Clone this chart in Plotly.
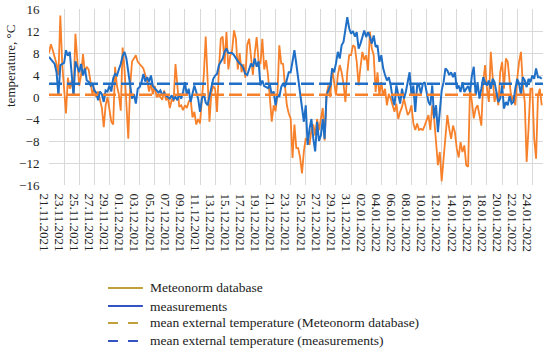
import pandas as pd
import plotly.graph_objects as go

# ---- data (6-hourly samples starting 21.11.2021 00:00) ----
start_time = "2021-11-21 00:00"
meteonorm = [
    8.0, 9.6, 8.5, 7.2,   6.0, 4.0, 14.8, 6.0,   1.0, -3.0, 3.5, 1.5,   3.0, 0.5, 11.5, 6.0,
    2.0, 4.0, 7.8, 4.5,   5.5, 5.0, 2.5, 0.5,    1.5, 0.0, 1.0, -0.8,   -2.0, -5.5, -1.5, 0.0,
    -2.5, -4.5, -5.0, 5.5, 2.0, 0.5, -2.5, 9.0,  5.0, -2.0, -7.6, 2.0,  6.5, 7.0, 7.6, 6.4,
    6.0, 5.5, 5.2, 4.0,   3.0, 1.0, 2.5, 0.5,    2.0, 0.0, 0.3, 0.0,    -0.5, 1.2, -0.6, 0.0,
    -2.0, -0.5, -0.8, 6.0, 1.5, -1.8, -1.5, -2.4, -1.5, -2.0, -0.9, -0.3, -3.7, -2.7, -5.0, -4.0,
    -4.8, -1.0, 4.0, 11.0, 3.0, -4.5, 0.8, 2.0,  1.5, -2.7, 5.0, 10.6,  11.0, 6.0, 11.8, 5.0,
    7.5, 8.5, 12.1, 10.6, 5.0, 8.0, 4.5, 6.0,    3.5, 9.5, 10.6, 7.5,   4.0, 8.0, 10.9, 6.5,
    6.0, 10.6, 5.0, 6.7,  4.0, -0.2, -4.5, -1.5, -2.6, 0.5, 9.4, 6.1,   6.0, 2.0, -1.5, -3.0,
    -3.9, -11.1, -5.0, -9.3, -9.3, -11.0, -13.9, -9.9, -7.5, -8.0, -8.7, -6.0, -5.0, -7.0, -4.0, -6.0,
    -4.0, -2.0, -7.9, 0.5, 2.1, 0.0, 5.2, 2.7,   0.3, 4.0, 5.8, 4.5,    2.4, -0.9, 4.5, 7.6,
    7.6, 9.4, 9.1, 6.4,   2.1, 5.5, 8.2, 6.7,    7.6, 4.8, 11.9, 8.8,   7.6, 0.9, 4.5, 0.3,
    2.7, 0.3, 1.5, -1.5,  0.6, -0.3, -1.5, -2.7, -1.2, -4.0, -2.7, -1.8, -0.3, -1.8, -3.3, -2.7,
    -1.5, -4.8, -6.0, -4.8, -6.0, -5.8, -6.0, -5.2, -4.2, -3.3, -6.0, -1.5, -3.9, -8.2, -12.4, -10.0,
    -15.3, -11.2, -6.4, -3.3, -5.8, -7.6, -5.2, -6.4, -9.4, -11.0, -8.2, -10.0, -8.8, -12.4, -12.7, 1.5,
    -0.9, -3.9, -2.1, -1.5, -3.3, -5.2, 2.7, 5.8, 1.5, -0.9, 8.2, 3.3,   -0.9, 0.9, -1.5, 4.5,
    6.4, 1.5, 7.0, 6.4,   2.7, -0.9, 0.3, -1.5,  3.3, 6.4, 8.2, 2.1,    -0.9, -11.8, -5.8, 1.5,
    1.5, -7.6, -11.2, 0.3, 1.5, -1.5,
]
measurements = [
    7.3, 6.8, 6.5, 6.0,   4.5, 0.2, 5.8, 6.0,    6.2, 8.5, 7.5, 8.2,    4.0, 0.2, 6.5, 5.5,
    4.5, 6.0, 3.9, 5.2,   3.0, 2.8, 2.1, 2.5,    1.2, 0.8, -0.6, 1.0,   0.5, -0.9, 1.2, 1.0,
    2.1, 1.0, 3.4, 4.2,   3.9, 5.0, 6.0, 7.5,    8.2, 7.0, 4.5, 2.0,    -0.3, 0.5, -1.2, 1.5,
    1.8, 2.7, 4.2, 2.8,   3.6, 2.8, 3.9, 2.0,    1.5, 1.2, 0.8, 1.2,    0.3, 0.8, 0.2, 0.0,
    -0.3, 0.3, -0.4, 0.0, -0.6, 0.6, -0.3, 0.9,  2.7, 0.3, 1.5, -0.9,   0.6, 2.1, 0.9, -0.3,
    -2.7, -0.3, 0.6, -1.0, -1.5, 0.3, 2.1, 3.3,  3.9, 4.2, 5.8, 6.4,    7.0, 8.2, 8.8, 8.0,
    8.0, 8.0, 7.6, 7.0,   6.5, 6.1, 5.8, 5.2,    4.2, 4.0, 5.0, 6.1,    5.5, 7.0, 5.5, 6.5,
    2.1, 3.0, 2.0, 1.8,   1.6, 2.3, 0.3, 1.0,    -1.5, 0.5, 0.0, 1.8,   2.5, 1.8, 3.0, 4.5,
    4.5, 6.4, 8.5, 6.0,   3.3, 0.9, -2.6, -4.5,  -1.5, -8.7, -5.8, -4.0, -7.6, -9.9, -4.5, -8.0,
    -7.0, -4.0, -7.6, 0.3, 1.2, 2.1, 5.2, 4.5,   6.1, 8.2, 7.0, 9.4,    10.0, 12.0, 14.5, 12.5,
    11.5, 12.0, 11.0, 11.8, 8.8, 9.7, 10.8, 12.1, 10.9, 11.8, 10.9, 9.7, 11.2, 9.1, 9.4, 6.4,
    7.6, 5.2, 4.0, 3.0,   3.6, 2.1, -0.3, -1.5,  2.1, 0.3, -1.2, 1.5,   -0.3, 0.9, 2.7, 4.5,
    0.3, 2.1, -2.7, 2.1,  2.1, 0.6, 2.4, 2.7,    0.9, -0.9, -1.5, 2.1,  -3.9, -1.5, -6.4, -2.1,
    1.2, 2.7, 5.2, 4.8,   4.0, 4.5, 3.6, 4.5,    1.5, 2.1, 0.9, 2.7,    0.9, 1.5, 2.0, 0.9,
    3.9, 5.5, 0.3, 2.7,   -0.3, 1.5, 3.6, 2.7,   2.1, 3.0, 1.5, 3.3,    2.7, 0.9, -0.9, -0.3,
    2.1, -2.1, -0.9, -1.5, 0.3, -1.2, -0.9, 1.5, 3.3, 2.4, 0.3, 3.6,    3.0, 1.8, 3.3, 2.7,
    3.9, 3.3, 5.2, 3.6,   3.6, 3.3,
]
mean_meteonorm = 0.4
mean_measurements = 2.4

series_names = [
    "Meteonorm database",
    "measurements",
    "mean external temperature (Meteonorm database)",
    "mean external temperature (measurements)",
]
y_ticks = [-16, -12, -8, -4, 0, 4, 8, 12, 16]
x_end = "2022-01-25 10:00"

times = pd.date_range(start_time, periods=len(meteonorm), freq="6h")
times_m = pd.date_range(start_time, periods=len(measurements), freq="6h")

ORANGE = "#F7802A"
BLUE = "#1F6FC6"
LEG_GOLD = "#BFA03A"
LEG_BLUE = "#3552C2"
FONT = "Liberation Serif, DejaVu Serif, serif"

fig = go.Figure()
fig.add_trace(go.Scatter(x=times, y=meteonorm, mode="lines", name=series_names[0],
                         line=dict(color=ORANGE, width=1.8), showlegend=False))
fig.add_trace(go.Scatter(x=times_m, y=measurements, mode="lines", name=series_names[1],
                         line=dict(color=BLUE, width=2), showlegend=False))
fig.add_trace(go.Scatter(x=[start_time, x_end], y=[mean_meteonorm, mean_meteonorm],
                         mode="lines", name=series_names[2],
                         line=dict(color=ORANGE, width=2.5, dash="13px,5px"),
                         showlegend=False))
fig.add_trace(go.Scatter(x=[start_time, x_end], y=[mean_measurements, mean_measurements],
                         mode="lines", name=series_names[3],
                         line=dict(color=BLUE, width=2.5, dash="13px,5px"),
                         showlegend=False))

# manual legend (below the plot)
leg_styles = [(LEG_GOLD, "solid"), (LEG_BLUE, "solid"), (LEG_GOLD, "10px,10px"), (LEG_BLUE, "10px,10px")]
leg_rows = [-0.585, -0.6875, -0.784, -0.886]
shapes, annotations = [], []
for name, (c, d), yy in zip(series_names, leg_styles, leg_rows):
    shapes.append(dict(type="line", xref="paper", yref="paper",
                       x0=0.1194, x1=0.190, y0=yy, y1=yy,
                       line=dict(color=c, width=2, dash=d)))
    annotations.append(dict(text=name, xref="paper", yref="paper", x=0.2004, y=yy,
                            xanchor="left", yanchor="middle", showarrow=False,
                            font=dict(family=FONT, size=13.5, color="#222")))

annotations.append(dict(
    text="temperature, °C", textangle=-90, xref="paper", yref="paper",
    x=-0.079, y=0.676, xanchor="center", yanchor="middle", showarrow=False,
    font=dict(family=FONT, size=13, color="#222"),
))

fig.update_layout(
    width=550, height=352,
    margin=dict(l=49, r=7, t=9, b=167),
    paper_bgcolor="white", plot_bgcolor="white",
    font=dict(family=FONT, size=13, color="#222"),
    showlegend=False,
    xaxis=dict(
        type="date", range=[start_time, x_end], automargin=False,
        tick0=start_time, dtick=2 * 86400000, tickformat="%d.%m.%Y",
        tickangle=90, showgrid=True, gridcolor="#D9D9D9", gridwidth=1,
        zeroline=False, showline=False, ticks="outside", ticklen=5,
        tickcolor="rgba(0,0,0,0)", ticklabelshift=-5,
        tickfont=dict(family=FONT, size=13, color="#222"),
    ),
    yaxis=dict(
        range=[-16, 16], tickvals=y_ticks, showgrid=True, gridcolor="#D9D9D9",
        gridwidth=1, zeroline=False, showline=False, ticks="outside", ticklen=6,
        tickcolor="rgba(0,0,0,0)", automargin=False,
        tickfont=dict(family=FONT, size=13, color="#222"),
    ),
    shapes=shapes,
    annotations=annotations,
)

fig.write_html("out.html", config={"displayModeBar": False},
               post_script="document.body.style.margin='0';")
